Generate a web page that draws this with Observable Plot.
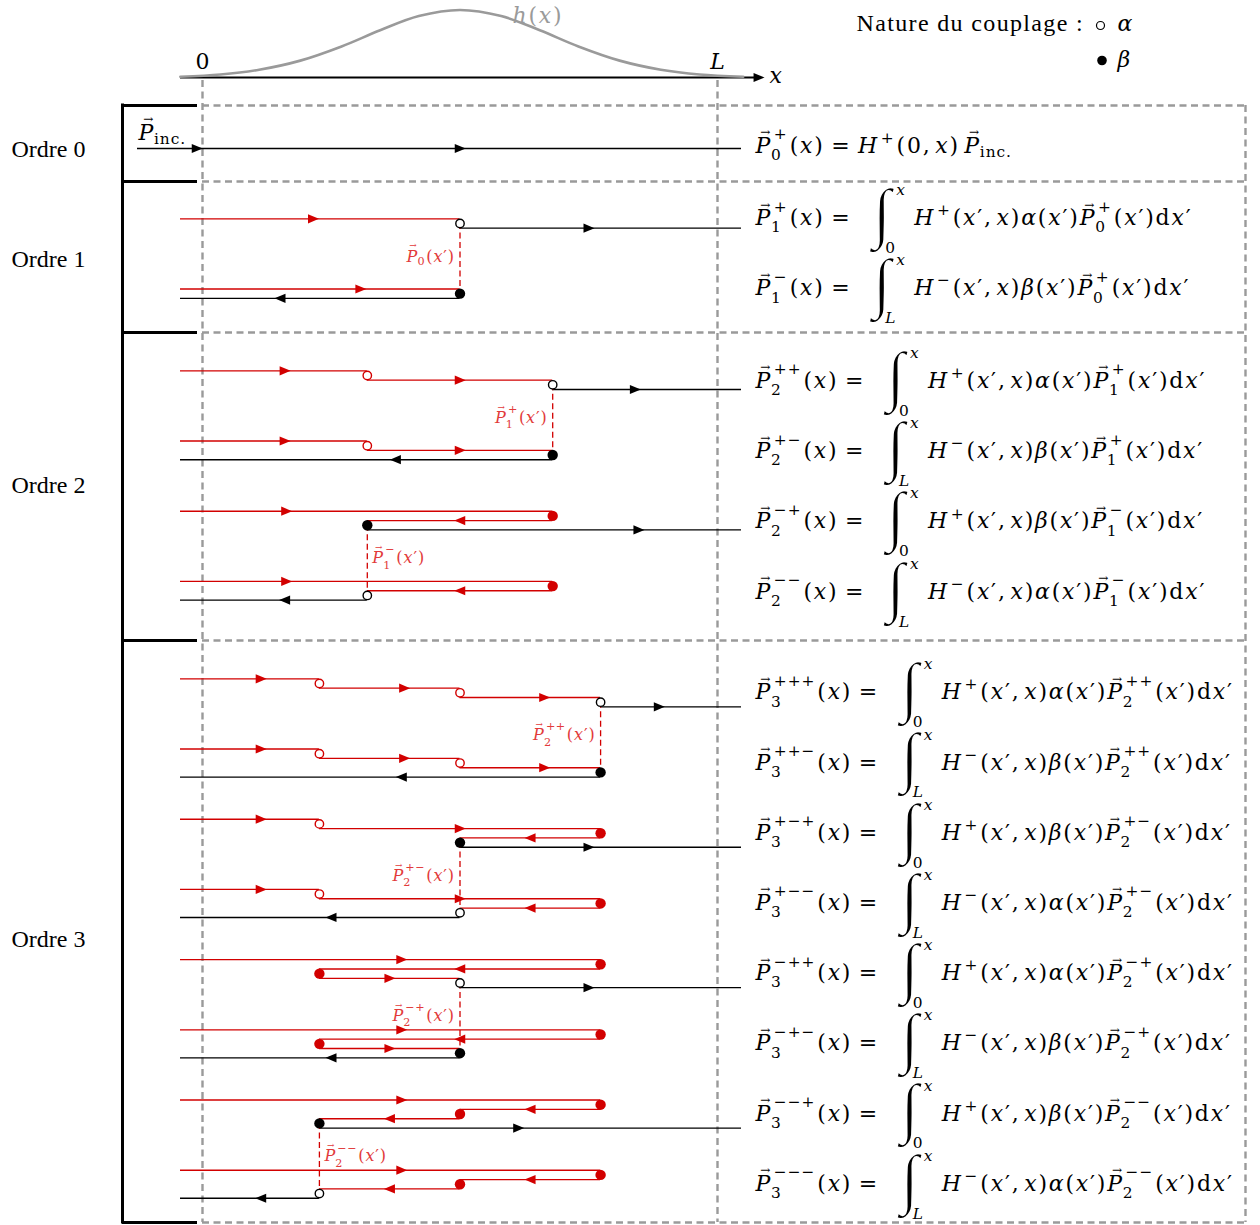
<!DOCTYPE html>
<html><head><meta charset="utf-8">
<script src="https://cdn.jsdelivr.net/npm/d3@7"></script>
<script src="https://cdn.jsdelivr.net/npm/@observablehq/plot@0.6"></script>
<style>body{margin:0;background:#fff}#chart{width:1260px;height:1225px}</style>
</head><body><div id="chart"></div>
<script>
// ================= DATA =================
const orderLabels = ["Ordre 0", "Ordre 1", "Ordre 2", "Ordre 3"];
const pathsPerOrder = [1, 2, 4, 8];
// sign string of each scattered field (one path per sign string)
const pathSigns = ["+", "-", "++", "+-", "-+", "--", "+++", "++-", "+-+", "+--", "-++", "-+-", "--+", "---"];
// coupling positions x' (units of L) met along each path, in order
const pathCouplingX = [
  [0.5], [0.5],
  [0.32, 0.68], [0.32, 0.68], [0.68, 0.32], [0.68, 0.32],
  [0.227, 0.5, 0.773], [0.227, 0.5, 0.773], [0.227, 0.773, 0.5], [0.227, 0.773, 0.5],
  [0.773, 0.227, 0.5], [0.773, 0.227, 0.5], [0.773, 0.5, 0.227], [0.773, 0.5, 0.227]
];
// marker drawn at each coupling : "o" open (alpha), "f" filled (beta)
const pathCouplingMark = [
  ["o"], ["f"],
  ["o", "o"], ["o", "f"], ["f", "f"], ["f", "o"],
  ["o", "o", "o"], ["o", "o", "f"], ["o", "f", "f"], ["o", "f", "o"],
  ["f", "f", "o"], ["f", "f", "f"], ["f", "f", "f"], ["f", "f", "o"]
];
// coupling coefficient in each equation
const eqCoupling = ["α", "β", "α", "β", "β", "α", "α", "β", "β", "α", "α", "β", "β", "α"];
// arrow positions read on the picture (units of L); null = middle of the part inside [0, L]
const pathArrowX = [
  [0.215, null], [0.307, 0.151],
  [null, null, null], [null, null, 0.375], [0.163, null, 0.847], [0.163, null, null],
  [null, 0.392, 0.664, null], [null, 0.392, 0.664, null], [null, null, null, null], [null, null, null, null],
  [null, null, null, null], [null, null, null, null], [null, null, null, null], [null, null, null, null]
];
// h(x) profile (x in units of L, h relative to its peak)
const gaussX = [-0.043, 0.035, 0.11, 0.19, 0.27, 0.345, 0.42, 0.5, 0.58, 0.655, 0.73, 0.81, 0.89, 0.965, 1.05];
const gaussH = [0.012, 0.045, 0.115, 0.25, 0.46, 0.7, 0.91, 1, 0.91, 0.7, 0.46, 0.25, 0.115, 0.045, 0.012];

// ================= LAYOUT / STYLE =================
const X0 = 202, XL = 515;                 // pixel of x = 0 and length L
const ux = px => (px - X0) / XL;
const MATH = '"DejaVu Serif", serif';
const TXT = '"Liberation Serif", serif';
const INTFAM = '"Liberation Serif", serif';
const RED = "#d20000", LRED = "#e23a3a", GRAY = "#9a9a9a", BLACK = "#000000";
const FM = 22, TRACK = 1.8;               // math text size and extra spacing
const axisY = 77, peakPx = 67.5;
const boxY = [105, 181, 332, 640, 1222];
const firstY = [148, 218.3, 370.3, 678.3];
const eqShift = [0, -3, -1.5, -7.5];
const slotH = 70.2, stepY = 9.35;
const xStart = ux(180), xEnd = ux(741), frameR = ux(1245);

const ctx = document.createElement("canvas").getContext("2d");
function meas(s, size, it, fam) {
  ctx.font = `${it ? "italic " : ""}${size}px ${fam}`;
  return ctx.measureText(s);
}
const T = s => ({k: "t", s, it: false});
const I = s => ({k: "t", s, it: true});
const SP = em => ({k: "sp", em});
const VEC = () => ({k: "vec"});
const SC = (sub, sup) => ({k: "sc", sub, sup});
const INT = (lo, hi) => ({k: "int", lo, hi});
const sgn = s => s.replace(/-/g, "−");

function layout(tokens, F, fill, fam, track) {
  const list = []; let cx = 0, last = null;
  const V = F;
  const add = (dx, dy, text, size, it, f = fam) => list.push({dx, dy, text, size, it, fam: f, fill});
  for (const tk of tokens) {
    if (tk.k === "sp") { cx += tk.em * F; continue; }
    if (tk.k === "t") {
      if (track) {
        for (const ch of tk.s) { add(cx, 0, ch, F, tk.it); cx += meas(ch, F, tk.it, fam).width + track; }
      } else { add(cx, 0, tk.s, F, tk.it); cx += meas(tk.s, F, tk.it, fam).width; }
      last = tk.it ? "it" : "rm"; continue;
    }
    if (tk.k === "vec") {
      const mp = meas("P", F, true, fam); add(cx, 0, "P", F, true);
      const A = 0.55 * F, ma = meas("→", A, false, fam);
      const pc = cx + (mp.actualBoundingBoxRight - mp.actualBoundingBoxLeft) / 2 + 0.1 * F;
      const aw = ma.actualBoundingBoxLeft + ma.actualBoundingBoxRight;
      const ax = pc - aw / 2 + ma.actualBoundingBoxLeft;
      const bottom = -mp.actualBoundingBoxAscent - 0.07 * V;
      add(ax, bottom - ma.actualBoundingBoxDescent, "→", A, false);
      cx += mp.width + track; last = "vec"; continue;
    }
    if (tk.k === "sc") {
      const s = 0.7 * F; let adv = 0;
      const itl = last === "vec" || last === "it";
      if (tk.sub) {
        const ox = itl ? -0.05 * F : 0; let sx = cx + ox;
        for (const ch of tk.sub) { add(sx, tk.sup ? 0.33 * V : 0.22 * V, ch, s, false); sx += meas(ch, s, false, fam).width + track * 0.5; }
        adv = Math.max(adv, sx - cx);
      }
      if (tk.sup) {
        const ox = itl ? 0.08 * F : 0; let sx = cx + ox;
        for (const ch of tk.sup) { add(sx, last === "vec" ? -0.62 * V : -0.45 * V, ch, s, false); sx += meas(ch, s, false, fam).width + track * 0.5; }
        adv = Math.max(adv, sx - cx);
      }
      cx += adv + 0.05 * F + track * 0.5; last = "rm"; continue;
    }
    if (tk.k === "int") {
      const m = meas("∫", 100, false, INTFAM);
      const asc = m.actualBoundingBoxAscent / 100, desc = m.actualBoundingBoxDescent / 100;
      const L = m.actualBoundingBoxLeft / 100, R = m.actualBoundingBoxRight / 100;
      const S = 3.0 * V / (asc + desc);
      add(cx + L * S, 1.27 * V - desc * S, "∫", S, false, INTFAM);
      const inkW = (L + R) * S, inkR = cx + inkW;
      const s = 0.7 * F, loIt = tk.lo === "L";
      const hx = inkR + 0.05 * F, lx = cx + 0.62 * inkW;
      add(hx, -1.36 * V, tk.hi, s, true);
      add(lx, 1.27 * V, tk.lo, s, loIt);
      cx = Math.max(cx + 2.05 * V, hx + meas(tk.hi, s, true, fam).width + 0.15 * F, lx + meas(tk.lo, s, loIt, fam).width + 0.15 * F);
      last = "rm"; continue;
    }
  }
  return {list, width: cx};
}
const runs = [];
function place(tokens, size, fill, xPx, baseY, anchor = "start", fam = MATH, track = TRACK) {
  const {list, width} = layout(tokens, size, fill, fam, track);
  const off = anchor === "end" ? -width : anchor === "middle" ? -width / 2 : 0;
  for (const r of list) runs.push({...r, x: ux(xPx + off + r.dx), y: baseY + r.dy});
}

// ================= GEOMETRY FROM DATA =================
const segs = [], arrows = [], circles = [], conns = [];
const lastY = [], lastC = [];
const clipMid = (a, b) => (Math.max(0, Math.min(a, b)) + Math.min(1, Math.max(a, b))) / 2;
pathSigns.forEach((s, i) => {
  const n = s.length;
  const k = i - pathsPerOrder.slice(1, n).reduce((a, b) => a + b, 0);
  let y = firstY[n] + slotH * k, x = xStart, dir = 1;
  const cx = pathCouplingX[i], mk = pathCouplingMark[i];
  const segList = [];
  for (let j = 0; j < n; j++) {
    segList.push({x1: x, x2: cx[j], y, color: RED, dir});
    circles.push({x: cx[j], y: y + stepY / 2, color: j === n - 1 ? BLACK : RED, filled: mk[j] === "f"});
    x = cx[j]; dir = s[j] === "+" ? 1 : -1; y += stepY;
  }
  segList.push({x1: x, x2: dir > 0 ? xEnd : xStart, y, color: BLACK, dir});
  segList.forEach((sg, j) => {
    segs.push(sg);
    const ov = pathArrowX[i][j];
    arrows.push({x: ov != null ? ov : clipMid(sg.x1, sg.x2), y: sg.y, dir: sg.dir, color: sg.color});
  });
  lastY[i] = y; lastC[i] = {x: cx[n - 1], y: y - stepY / 2};
});
// order 0
segs.push({x1: ux(137), x2: xEnd, y: firstY[0], color: BLACK, dir: 1});
arrows.push({x: ux(202 - 5.5), y: firstY[0], dir: 1, color: BLACK});
arrows.push({x: clipMid(xStart, xEnd), y: firstY[0], dir: 1, color: BLACK});

// dashed links between twin paths + their labels
for (let i = 0; i < pathSigns.length; i += 2) {
  const a = lastC[i], b = lastC[i + 1];
  conns.push({x: a.x, y1: a.y, y2: b.y});
  const n = pathSigns[i].length;
  const prev = pathSigns[i].slice(0, -1);
  const toks = [VEC(), SC(String(n - 1), prev ? sgn(prev) : null), T("("), I("x"), T("′)")];
  const right = a.x < 0.4;
  const xPx = X0 + a.x * XL + (right ? 5 : -5);
  place(toks, 16, LRED, xPx, (a.y + b.y) / 2 + 3, right ? "start" : "end", MATH, 0.9);
}

// equations
place([VEC(), SC("0", "+"), T("("), I("x"), T(")"), SP(0.3), T("="), SP(0.3), I("H"), SC(null, "+"), T("(0,"), SP(0.17), I("x"), T(")"), SP(0.2), VEC(), SC("inc.", null)], FM, BLACK, 755, 152);
pathSigns.forEach((s, i) => {
  const n = s.length, d = s[n - 1];
  const prev = n === 1 ? "+" : s.slice(0, -1);
  const toks = [VEC(), SC(String(n), sgn(s)), T("("), I("x"), T(")"), SP(0.3), T("="), SP(0.8), INT(d === "+" ? "0" : "L", "x"),
    I("H"), SC(null, sgn(d)), T("("), I("x"), T("′,"), SP(0.17), I("x"), T(")"), I(eqCoupling[i]), T("("), I("x"), T("′)"),
    VEC(), SC(String(n - 1), sgn(prev)), T("("), I("x"), T("′)d"), I("x"), T("′")];
  place(toks, FM, BLACK, 755, lastY[i] + eqShift[n]);
});
// P_inc label
place([VEC(), SC("inc.", null)], FM, BLACK, 138, 139);
// axis labels
place([T("0")], FM, BLACK, 202, 68, "middle", MATH, 0);
place([I("L")], FM, BLACK, 717, 68, "middle", MATH, 0);
place([I("x")], FM, BLACK, 769, 82, "start", MATH, 0);
place([I("h"), T("("), I("x"), T(")")], FM, GRAY, 512, 22);
// legend
place([T("Nature du couplage :")], 24, BLACK, 856, 30, "start", TXT, 1.35);
place([I("α")], FM, BLACK, 1117, 30, "start", MATH, 0);
place([I("β")], FM, BLACK, 1117, 66, "start", MATH, 0);
// order labels
const orderCenter = [firstY[0]];
for (let n = 1; n < 4; n++) orderCenter.push(firstY[n] + n * stepY / 2 + slotH * (pathsPerOrder[n] - 1) / 2);
orderLabels.forEach((lab, n) => place([T(lab)], 24, BLACK, 11, orderCenter[n] + 8, "start", TXT, 0));

// ================= SYMBOLS =================
const arrowR = {draw(c, size) { const r = Math.sqrt(size / Math.PI); c.moveTo(1.15 * r, 0); c.lineTo(-1.05 * r, -0.92 * r); c.lineTo(-1.05 * r, 0.92 * r); c.closePath(); }};
const arrowL = {draw(c, size) { const r = Math.sqrt(size / Math.PI); c.moveTo(-1.15 * r, 0); c.lineTo(1.05 * r, -0.92 * r); c.lineTo(1.05 * r, 0.92 * r); c.closePath(); }};

const dash = {stroke: GRAY, strokeWidth: 2.4, strokeDasharray: "7,4.5"};
const textMarks = [];
const intRuns = runs.filter(r => r.text === "∫");
textMarks.push(Plot.text(intRuns, {
  x: "x", y: "y", text: "text", fontSize: d => d.size, fill: d => d.fill, stroke: "white", strokeWidth: 1.5, paintOrder: "normal",
  fontFamily: INTFAM, textAnchor: "start", lineAnchor: "bottom"
}));
for (const fam of [MATH, TXT]) for (const it of [false, true]) {
  const sel = runs.filter(r => r.text !== "∫" && r.fam === fam && r.it === it);
  if (sel.length) textMarks.push(Plot.text(sel, {
    x: "x", y: "y", text: "text", fontSize: d => d.size, fill: d => d.fill,
    fontFamily: fam, fontStyle: it ? "italic" : "normal", textAnchor: "start", lineAnchor: "bottom"
  }));
}

const chart = Plot.plot({
  width: 1260, height: 1225, margin: 0,
  x: {domain: [ux(0), ux(1260)], range: [0, 1260], axis: null},
  y: {domain: [0, 1225], range: [0, 1225], axis: null},
  color: {type: "identity"},
  style: {background: "#fff"},
  marks: [
    // dashed frame
    Plot.ruleX([0, 1], {x: d => d, y1: axisY + 3, y2: boxY[4], ...dash}),
    Plot.ruleX([frameR], {x: d => d, y1: boxY[0], y2: boxY[4], ...dash}),
    Plot.ruleY(boxY, {y: d => d, x1: 0, x2: frameR, ...dash}),
    // bracket
    Plot.ruleX([ux(122)], {x: d => d, y1: boxY[0] - 1.5, y2: boxY[4] + 1.5, stroke: BLACK, strokeWidth: 3}),
    Plot.ruleY(boxY, {y: d => d, x1: ux(122), x2: ux(197), stroke: BLACK, strokeWidth: 3}),
    // x axis and h(x)
    Plot.ruleY([axisY], {y: d => d, x1: xStart, x2: ux(758), stroke: BLACK, strokeWidth: 2.2}),
    Plot.dot([0], {x: () => ux(764 - 5.7), y: () => axisY, symbol: arrowR, r: 5, fill: BLACK}),
    Plot.line(gaussX.map((x, k) => ({x, y: axisY - gaussH[k] * peakPx})), {x: "x", y: "y", stroke: GRAY, strokeWidth: 2.6, curve: "catmull-rom"}),
    // paths
    Plot.ruleY(segs, {y: "y", x1: "x1", x2: "x2", stroke: d => d.color, strokeWidth: 1.35}),
    Plot.dot(arrows.filter(a => a.dir > 0), {x: "x", y: "y", symbol: arrowR, r: 5, fill: d => d.color}),
    Plot.dot(arrows.filter(a => a.dir < 0), {x: "x", y: "y", symbol: arrowL, r: 5, fill: d => d.color}),
    Plot.ruleX(conns, {x: "x", y1: "y1", y2: "y2", stroke: RED, strokeWidth: 1.3, strokeDasharray: "6,3.5"}),
    Plot.dot(circles.filter(c => !c.filled), {x: "x", y: "y", r: 4.2, fill: "white", stroke: d => d.color, strokeWidth: 1.4}),
    Plot.dot(circles.filter(c => c.filled), {x: "x", y: "y", r: 5.2, fill: d => d.color}),
    // legend symbols
    Plot.dot([0], {x: () => ux(1100), y: () => 25, r: 4, fill: "white", stroke: BLACK, strokeWidth: 1.2}),
    Plot.dot([0], {x: () => ux(1101.5), y: () => 60, r: 4.8, fill: BLACK}),
    // texts
    ...textMarks
  ]
});
document.getElementById("chart").appendChild(chart);
</script></body></html>
